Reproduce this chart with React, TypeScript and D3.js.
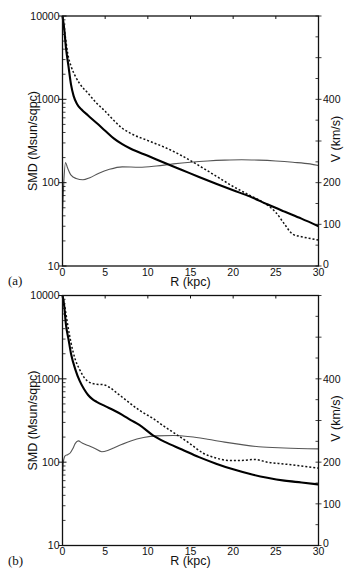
import React from "react";
import * as d3 from "d3";

// axis ticks
const radiusTicks = [0, 5, 10, 15, 20, 25, 30];
const smdTicks = [10, 100, 1000, 10000];
const velLabels = [0, 100, 200, 400];

// panel (a) - surface mass density, thick solid
const rSolidA = [0, 0.2, 0.4, 0.7, 1.0, 1.3, 1.7, 2.2, 3, 4, 5, 6, 7, 8, 10, 12, 14, 16, 18, 20, 22, 24, 26, 28, 30];
const smdSolidA = [10000, 7000, 4200, 2500, 1500, 1100, 880, 760, 640, 520, 420, 340, 290, 255, 210, 172, 142, 117, 97, 81, 68, 55, 45, 37, 30];
// panel (a) - dotted
const rDotA = [0, 0.3, 0.6, 1.0, 1.5, 2, 3, 4, 5, 6, 7, 8, 10, 12, 14, 16, 18, 20, 22, 24, 25, 26, 27, 28, 30];
const smdDotA = [10000, 6000, 3600, 2500, 1900, 1550, 1180, 900, 720, 560, 450, 390, 320, 265, 210, 160, 120, 90, 70, 54, 44, 32, 24, 22.5, 20.5];
// panel (a) - rotation velocity, thin
const rVelA = [0, 0.15, 0.35, 0.6, 1.0, 1.6, 2.4, 3.2, 4.2, 5.5, 7, 9, 11, 13, 15, 17, 19, 21, 23, 25, 27, 29, 30];
const velA = [130, 200, 248, 235, 218, 210, 207, 212, 222, 232, 238, 237, 240, 245, 249, 252, 254, 255, 254, 252, 249, 245, 241];

// panel (b)
const rSolidB = [0, 0.2, 0.4, 0.7, 1.0, 1.5, 2, 2.5, 3, 3.5, 4, 5, 6, 7, 8, 9, 10.6, 12, 14, 16, 18, 20, 22, 24, 26, 28, 30];
const smdSolidB = [10000, 7500, 4500, 3000, 2000, 1300, 950, 760, 640, 570, 530, 470, 420, 370, 320, 280, 210, 175, 142, 115, 96, 82, 72, 65, 60, 57, 54];
const rDotB = [0, 0.3, 0.6, 1.0, 1.5, 2, 2.5, 3, 3.5, 4, 4.8, 5.5, 6.5, 7.5, 9, 10.5, 12, 13.5, 15, 16.5, 18, 19.5, 21, 22.5, 24, 26, 28, 30];
const smdDotB = [10000, 7000, 4500, 2700, 1700, 1300, 1050, 930, 880, 860, 850, 790, 660, 550, 420, 340, 265, 210, 165, 128, 112, 105, 105, 108, 100, 95, 90, 85];
const rVelB = [0, 0.1, 0.3, 0.6, 0.9, 1.2, 1.5, 1.85, 2.3, 3, 3.8, 4.6, 5.3, 6, 7, 8, 9.5, 11, 13, 15, 17, 19, 21, 23, 26, 30];
const velB = [165, 200, 215, 218, 222, 232, 245, 251, 246, 240, 233, 225, 228, 234, 243, 251, 259, 263, 264, 261, 255, 248, 242, 237, 234, 232];

const sans = "'Liberation Sans', Arial, Helvetica, sans-serif";

type Props = {
  top: number;
  tag: string;
  rs: number[]; ss: number[];
  rd: number[]; sd: number[];
  rv: number[]; vv: number[];
};

function Panel({ top, tag, rs, ss, rd, sd, rv, vv }: Props) {
  const left = 62.5, right = 318.5, h = 250;
  const bottom = top + h;
  const x = d3.scaleLinear().domain([0, 30]).range([left, right]);
  const y = d3.scaleLog().domain([10, 10000]).range([bottom, top]);
  const v = d3.scaleLinear().domain([0, 600]).range([bottom, top]);

  const smdLine = d3.line<[number, number]>()
    .x(d => x(d[0])).y(d => y(d[1])).curve(d3.curveMonotoneX);
  const velLine = d3.line<[number, number]>()
    .x(d => x(d[0])).y(d => v(d[1])).curve(d3.curveMonotoneX);

  const minorY = y.ticks().filter(t => !smdTicks.includes(t));
  const velTicks = d3.range(0, 601, 50);

  return (
    <g>
      {/* velocity */}
      <path d={velLine(rv.map((r, i) => [r, vv[i]]))!} fill="none" stroke="#555" strokeWidth={1.1} />
      {/* dotted */}
      <path d={smdLine(rd.map((r, i) => [r, sd[i]]))!} fill="none" stroke="#111" strokeWidth={1.5} strokeDasharray="2,2" />
      {/* solid */}
      <path d={smdLine(rs.map((r, i) => [r, ss[i]]))!} fill="none" stroke="#000" strokeWidth={2.1} />

      {/* frame */}
      <rect x={left} y={top} width={right - left} height={h} fill="none" stroke="#111" strokeWidth={1.3} />

      {/* top ticks */}
      {radiusTicks.slice(1, -1).map(t => (
        <line key={"tt" + t} x1={x(t)} x2={x(t)} y1={top} y2={top + 3} stroke="#111" />
      ))}
      {/* left ticks */}
      {smdTicks.map(t => (
        <line key={"lt" + t} x1={left - 4} x2={left + 4} y1={y(t)} y2={y(t)} stroke="#111" />
      ))}
      {minorY.map(t => (
        <line key={"lm" + t} x1={left} x2={left + 3} y1={y(t)} y2={y(t)} stroke="#111" strokeWidth={0.8} />
      ))}
      {/* right ticks */}
      {velTicks.map(t => (
        <line key={"rt" + t} x1={right - 3} x2={t % 100 === 0 ? right + 3 : right} y1={v(t)} y2={v(t)} stroke="#111" strokeWidth={0.8} />
      ))}

      {/* tick labels */}
      <g fontFamily={sans} fontSize={10.5} fill="#111">
        {radiusTicks.map(t => (
          <text key={"xl" + t} x={x(t)} y={bottom + 9.5} textAnchor="middle">{t}</text>
        ))}
        {smdTicks.map(t => (
          <text key={"yl" + t} x={left - 3} y={y(t)} dy="0.35em" textAnchor="end">{t}</text>
        ))}
        {velLabels.map(t => (
          <text key={"vl" + t} x={right + 4.5} y={v(t) - (t === 0 ? 2 : 0)} dy="0.35em">{t}</text>
        ))}
      </g>

      {/* axis titles */}
      <g fontFamily={sans} fontSize={12.5} fill="#111">
        <text x={(left + right) / 2} y={bottom + 19.5} textAnchor="middle">R (kpc)</text>
        <text transform={`translate(36.5,${top + 125}) rotate(-90)`} textAnchor="middle">SMD (Msun/sqpc)</text>
        <text transform={`translate(339.5,${top + 123}) rotate(-90)`} textAnchor="middle">V (km/s)</text>
      </g>
      <text x={8} y={bottom + 19} fontFamily="'Liberation Serif', 'Times New Roman', serif" fontSize={13} fill="#111">{tag}</text>
    </g>
  );
}

export default function App() {
  return (
    <svg width={355} height={572} style={{ position: "absolute", left: 0, top: 0, background: "#fff" }}>
      <rect width={355} height={572} fill="#fff" />
      <Panel top={16} tag="(a)" rs={rSolidA} ss={smdSolidA} rd={rDotA} sd={smdDotA} rv={rVelA} vv={velA} />
      <Panel top={295.5} tag="(b)" rs={rSolidB} ss={smdSolidB} rd={rDotB} sd={smdDotB} rv={rVelB} vv={velB} />
    </svg>
  );
}
